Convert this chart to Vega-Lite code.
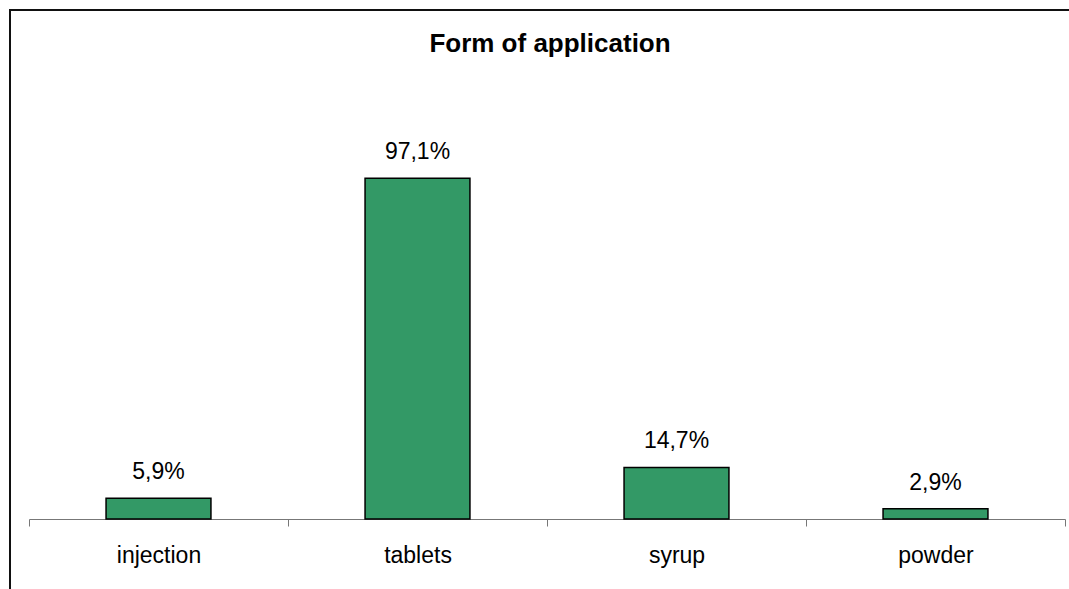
{
  "$schema": "https://vega.github.io/schema/vega-lite/v6.json",
  "autosize": "none",
  "padding": {"left": 10, "top": 10, "right": 0, "bottom": 0},
  "width": 1080,
  "height": 600,
  "background": "#ffffff",
  "config": {
    "locale": {
      "number": {"decimal": ",", "thousands": ".", "grouping": [3], "currency": ["", " €"]}
    },
    "view": {"stroke": "#111111", "strokeWidth": 2},
    "font": "Liberation Sans"
  },
  "title": {
    "text": "Form of application",
    "font": "Liberation Sans",
    "fontSize": 26,
    "fontWeight": "bold",
    "color": "#000000",
    "anchor": "middle",
    "baseline": "alphabetic",
    "offset": -68
  },
  "data": {
    "values": [
      {"form": "injection", "share": 0.059},
      {"form": "tablets", "share": 0.971},
      {"form": "syrup", "share": 0.147},
      {"form": "powder", "share": 0.029}
    ]
  },
  "encoding": {
    "x": {
      "field": "form",
      "type": "nominal",
      "sort": null,
      "scale": {"type": "band", "range": [19, 1055], "paddingInner": 0, "paddingOuter": 0},
      "axis": {
        "title": null,
        "offset": -91,
        "domainColor": "#777777",
        "domainWidth": 1,
        "tickColor": "#777777",
        "tickSize": 7,
        "tickBand": "extent",
        "labelAngle": 0,
        "labelFont": "Liberation Sans",
        "labelFontSize": 23,
        "labelColor": "#000000",
        "labelBaseline": "alphabetic",
        "labelPadding": 36
      }
    },
    "y": {
      "field": "share",
      "type": "quantitative",
      "scale": {"domain": [0, 1.2], "range": [509, 88], "nice": false},
      "axis": null
    }
  },
  "layer": [
    {
      "mark": {
        "type": "bar",
        "width": {"band": 0.405},
        "fill": "#339966",
        "stroke": "#000000",
        "strokeWidth": 1.5
      }
    },
    {
      "mark": {
        "type": "text",
        "font": "Liberation Sans",
        "fontSize": 23,
        "color": "#000000",
        "baseline": "alphabetic",
        "align": "center",
        "dy": -19
      },
      "encoding": {
        "text": {"field": "share", "type": "quantitative", "format": ".1%"}
      }
    }
  ]
}
